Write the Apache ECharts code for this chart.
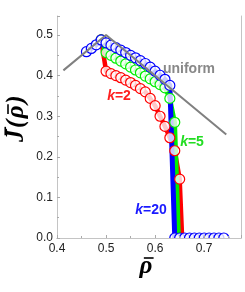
<!DOCTYPE html>
<html>
<head>
<meta charset="utf-8">
<script src="https://cdn.jsdelivr.net/npm/echarts@6/dist/echarts.min.js"></script>
<style>html,body{margin:0;padding:0;background:#fff;}#c{width:245px;height:292px;}</style>
</head>
<body>
<div id="c"></div>
<script>
// ---- data ----
const xTicks = [0.4, 0.5, 0.6, 0.7];
const yTicks = [0.0, 0.1, 0.2, 0.3, 0.4, 0.5];

const uniformX = [0.413, 0.5, 0.745];
const uniformY = [0.413, 0.5, 0.255];

// k=2 (red)
const redX = [0.49, 0.50, 0.51, 0.52, 0.53, 0.54, 0.55, 0.56, 0.57, 0.58, 0.59, 0.60, 0.61, 0.62, 0.63, 0.64, 0.65, 0.655];
const redY = [0.488, 0.411, 0.405, 0.400, 0.395, 0.389, 0.383, 0.376, 0.368, 0.360, 0.344, 0.326, 0.300, 0.275, 0.247, 0.215, 0.145, 0.0];
const redMarkers = 17; // circles on the first N points (last point is the line end)

// k=5 (green)
const greenX = [0.49, 0.50, 0.51, 0.52, 0.53, 0.54, 0.55, 0.56, 0.57, 0.58, 0.59, 0.60, 0.61, 0.62, 0.63, 0.64, 0.648];
const greenY = [0.488, 0.457, 0.450, 0.443, 0.436, 0.429, 0.421, 0.414, 0.407, 0.399, 0.392, 0.385, 0.378, 0.370, 0.344, 0.285, 0.0];
const greenMarkers = 16;

// k=20 (blue)
const blueX = [0.46, 0.47, 0.48, 0.49, 0.50, 0.51, 0.52, 0.53, 0.54, 0.55, 0.56, 0.57, 0.58, 0.59, 0.60, 0.61, 0.62, 0.63,
               0.64, 0.65, 0.66, 0.67, 0.68, 0.69, 0.70, 0.71, 0.72, 0.73, 0.74];
const blueY = [0.459, 0.467, 0.476, 0.488, 0.481, 0.475, 0.469, 0.463, 0.457, 0.450, 0.444, 0.437, 0.430, 0.421, 0.411, 0.401, 0.391, 0.376,
               0.0, 0.0, 0.0, 0.0, 0.0, 0.0, 0.0, 0.0, 0.0, 0.0, 0.0];

const zip = (xs, ys) => xs.map((x, i) => [x, ys[i]]);

const RED = '#ff0000', GREEN = '#00ee00', BLUE = '#0000ff';
const FILL = 'rgba(255,255,255,0.78)';
const SYM = 10;

function lineSeries(name, xs, ys, color, width, z) {
  return { type: 'line', name, data: zip(xs, ys), showSymbol: false, symbol: 'none',
    lineStyle: { color, width, join: 'round' }, z, clip: true, animation: false };
}
function markerSeries(name, xs, ys, n, color, z) {
  return { type: 'scatter', name, data: zip(xs, ys).slice(0, n), symbol: 'circle', symbolSize: SYM,
    itemStyle: { color: FILL, borderColor: color, borderWidth: 1.2, opacity: 1 }, z, clip: false, animation: false };
}

// text with macrons (overbars), built from measured glyph widths
const mctx = document.createElement('canvas').getContext('2d');
function barredText(parts, fs, spacing, barOffsets) {
  const font = 'italic bold ' + fs + 'px "Liberation Serif", "DejaVu Serif", serif';
  mctx.font = font;
  const children = [];
  let x = 0;
  parts.forEach((p, i) => {
    const w = mctx.measureText(p.t).width;
    children.push({ type: 'text', x: x, y: 0, style: { text: p.t, font: font, fill: '#000', align: 'left', verticalAlign: 'middle' } });
    if (p.bar) {
      const by = -fs * (p.cap ? 0.47 : 0.36);
      const skew = p.cap ? 0.22 * fs : 0.12 * fs;
      children.push({ type: 'line', shape: { x1: x + w * 0.1 + skew, y1: by, x2: x + w * 0.95 + skew * 0.6, y2: by },
        style: { stroke: '#000', lineWidth: 1.6 } });
    }
    x += w + spacing;
  });
  return { children, width: x - spacing };
}

const chart = echarts.init(document.getElementById('c'), null, { renderer: 'canvas' });
const fmt = v => (Math.abs(v * 10 - Math.round(v * 10)) < 1e-6 ? v.toFixed(1) : '');
const labelFont = { color: '#222', fontSize: 12, fontFamily: 'Liberation Sans, Arial, sans-serif' };
const frame = { show: true, lineStyle: { color: '#c4c4c4', width: 1 } };

const yName = barredText([{ t: 'J', bar: true, cap: true }, { t: '(' }, { t: 'ρ', bar: true }, { t: ')' }], 25, 1.5);
const xName = barredText([{ t: 'ρ', bar: true }], 25, 0);

chart.setOption({
  animation: false,
  backgroundColor: '#fff',
  grid: { left: 57, right: 4, top: 16, bottom: 54, containLabel: false },
  xAxis: [
    { type: 'value', min: 0.4, max: 0.775, interval: 0.1, z: 6,
      axisLine: frame, axisTick: { inside: true, length: 3, lineStyle: { color: '#aaa' } },
      minorTick: { show: true, splitNumber: 2, length: 2, lineStyle: { color: '#aaa' } },
      splitLine: { show: false },
      axisLabel: Object.assign({ margin: 5, showMaxLabel: false, formatter: fmt }, labelFont) },
    { type: 'value', position: 'top', min: 0.4, max: 0.775, axisLine: frame, axisTick: { show: false },
      axisLabel: { show: false }, splitLine: { show: false } }
  ],
  yAxis: [
    { type: 'value', min: 0, max: 0.547, interval: 0.1, z: 6,
      axisLine: frame, axisTick: { inside: true, length: 3, lineStyle: { color: '#aaa' } },
      minorTick: { show: true, splitNumber: 2, length: 2, lineStyle: { color: '#aaa' } },
      splitLine: { show: false },
      axisLabel: Object.assign({ margin: 4, showMaxLabel: false, formatter: fmt }, labelFont) },
    { type: 'value', position: 'right', min: 0, max: 0.547, axisLine: frame, axisTick: { show: false },
      axisLabel: { show: false }, splitLine: { show: false } }
  ],
  series: [
    lineSeries('k=2', redX, redY, RED, 4.5, 2),
    lineSeries('k=5', greenX, greenY, GREEN, 4.5, 2),
    lineSeries('k=20', blueX, blueY, BLUE, 5, 2),
    markerSeries('k=2 pts', redX, redY, redMarkers, RED, 3),
    markerSeries('k=5 pts', greenX, greenY, greenMarkers, GREEN, 3),
    markerSeries('k=20 pts', blueX, blueY, blueX.length, BLUE, 3),
    { type: 'line', name: 'uniform', data: zip(uniformX, uniformY), symbol: 'none', showSymbol: false,
      lineStyle: { color: '#808080', width: 2 }, z: 4, animation: false }
  ],
  graphic: [
    { type: 'rect', z: 5, silent: true, shape: { x: 57, y: 238.6, width: 184, height: 12 }, style: { fill: '#fff' } },
    { type: 'group', z: 7, x: 17, y: 142, rotation: Math.PI / 2, children: yName.children },
    { type: 'group', z: 7, x: 146 - xName.width / 2, y: 267, children: xName.children },
    { type: 'text', z: 7, x: 189, y: 69, style: { text: 'uniform', fill: '#888', font: 'bold 14px Liberation Sans, Arial, sans-serif', align: 'center', verticalAlign: 'middle' } },
    { type: 'text', z: 7, x: 119, y: 96, style: { text: '{i|k}{n|=2}', align: 'center', verticalAlign: 'middle',
        rich: { i: { fill: '#ff2020', font: 'bold italic 14px Liberation Sans, Arial, sans-serif' }, n: { fill: '#ff2020', font: 'bold 14px Liberation Sans, Arial, sans-serif' } } } },
    { type: 'text', z: 7, x: 192, y: 142, style: { text: '{i|k}{n|=5}', align: 'center', verticalAlign: 'middle',
        rich: { i: { fill: '#22dd22', font: 'bold italic 14px Liberation Sans, Arial, sans-serif' }, n: { fill: '#22dd22', font: 'bold 14px Liberation Sans, Arial, sans-serif' } } } },
    { type: 'text', z: 7, x: 151, y: 210, style: { text: '{i|k}{n|=20}', align: 'center', verticalAlign: 'middle',
        rich: { i: { fill: '#1a1aff', font: 'bold italic 14px Liberation Sans, Arial, sans-serif' }, n: { fill: '#1a1aff', font: 'bold 14px Liberation Sans, Arial, sans-serif' } } } }
  ]
});
</script>
</body>
</html>
